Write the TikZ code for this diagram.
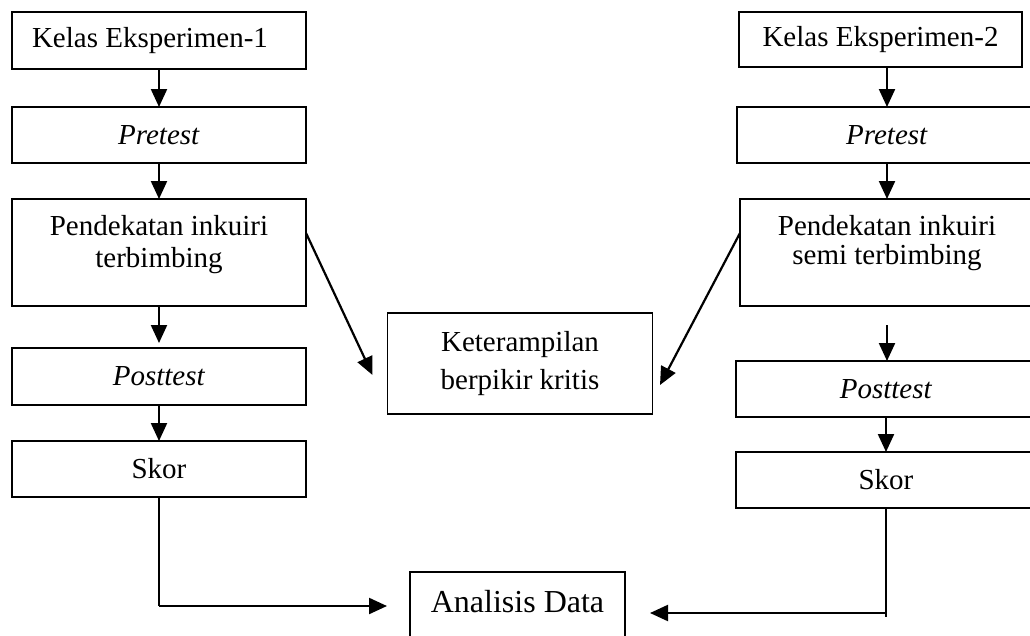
\documentclass[tikz,border=0pt]{standalone}
\usepackage{fontspec}
\setmainfont{Liberation Serif}
\usetikzlibrary{arrows.meta, positioning}

\begin{document}
\begin{tikzpicture}[
    x=1pt, y=-1pt,
    box/.style={rectangle, draw, line width=1.7pt, outer sep=0pt, inner sep=0pt, minimum width=294pt, minimum height=56pt, align=center, font=\fontsize{29}{32}\selectfont},
    arrow/.style={-{Triangle[length=18pt, width=16pt]}, line width=2.2pt},
    link/.style={line width=1.2pt}
]
    \useasboundingbox (0,0) rectangle (1030,635);

    % Left column
    \node[box, minimum height=57pt] (kelasA) at (159,40.5) {Kelas Eksperimen-1\hspace*{18pt}};
    \node[box, below=38pt of kelasA] (preA) {\textit{Pretest}};
    \node[box, below=36pt of preA, minimum height=107pt, text depth=23pt] (pendA) {Pendekatan inkuiri\\terbimbing};
    \node[box, below=42pt of pendA, minimum height=57pt] (postA) {\textit{Posttest}};
    \node[box, below=36pt of postA] (skorA) {Skor};

    % Right column
    \node[box, minimum width=283pt, minimum height=55pt] (kelasB) at (880.5,39.5) {Kelas Eksperimen-2};
    \node[box, below=40pt of kelasB, xshift=6.5pt, minimum width=300pt] (preB) {\textit{Pretest}};
    \node[box, below=36pt of preB, minimum width=294pt, minimum height=107pt, text depth=25pt] (pendB) {Pendekatan inkuiri\\[-3pt]semi terbimbing};
    \node[box, below=55pt of pendB, xshift=-1pt, minimum width=300pt] (postB) {\textit{Posttest}};
    \node[box, below=35pt of postB, minimum width=300pt] (skorB) {Skor};

    % Middle
    \node[box, minimum width=265pt, minimum height=101pt] (ketr) at (520,363.5) {Keterampilan\\[6pt]berpikir kritis};
    \node[box, minimum width=215pt, minimum height=68pt, text depth=10pt, font=\fontsize{32}{36}\selectfont] (analisis) at (517.5,606) {Analisis Data};

    % Main path
    \draw[arrow] (kelasA) -- (preA);
    \draw[arrow] (preA) -- (pendA);
    \draw[arrow] (pendA.south) -- ([yshift=5pt]postA.north);
    \draw[arrow] (postA) -- (skorA);

    \draw[arrow] (preB.north |- kelasB.south) -- (preB.north);
    \draw[arrow] (preB) -- (pendB);
    \draw[arrow] ([yshift=-19pt]pendB.south) -- (pendB.south |- postB.north);
    \draw[arrow] (postB) -- (skorB);

    % To Keterampilan
    \draw[arrow] ([yshift=19.5pt]pendA.east) -- ([xshift=-15pt, yshift=-11.5pt]ketr.west);
    \draw[arrow] ([yshift=19.5pt]pendB.west) -- ([xshift=7.5pt, yshift=-21.5pt]ketr.east);

    % To Analisis Data
    \coordinate (cornerA) at (skorA.south |- analisis.west);
    \draw[link] (skorA.south) -- (cornerA);
    \draw[arrow] (cornerA) -- ([xshift=-23pt]analisis.west);

    \coordinate (endB) at ([yshift=-109pt]skorB.south);
    \coordinate (cornerB) at ([yshift=4pt]endB);
    \draw[link] (skorB.south) -- (endB);
    \draw[arrow] (cornerB) -- ([xshift=25pt]analisis.east |- cornerB);
\end{tikzpicture}
\end{document}
